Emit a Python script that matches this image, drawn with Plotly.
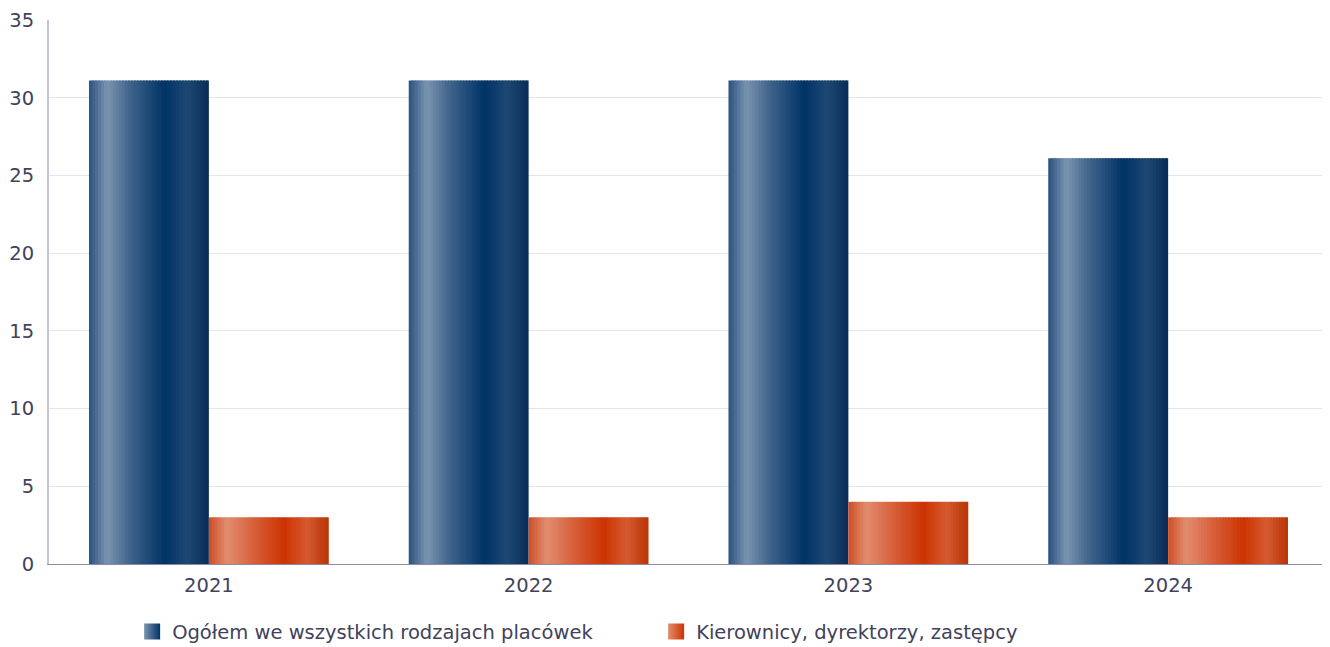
import plotly.graph_objects as go

years = ["2021", "2022", "2023", "2024"]
ogolem = [31.1, 31.1, 31.1, 26.1]
kierownicy = [3, 3, 4, 3]
series_names = ["Ogółem we wszystkich rodzajach placówek", "Kierownicy, dyrektorzy, zastępcy"]

# gradient stops (position across bar width, colour)
blue_stops = [(0.0, (44, 82, 126)), (0.15, (122, 148, 176)), (0.35, (62, 98, 138)),
              (0.63, (0, 51, 102)), (0.82, (30, 72, 115)), (1.0, (8, 44, 88))]
orange_stops = [(0.0, (204, 78, 38)), (0.15, (226, 142, 112)), (0.35, (216, 100, 64)),
                (0.63, (204, 51, 0)), (0.82, (214, 90, 48)), (1.0, (184, 52, 4))]


def colour_at(stops, t):
    for (p0, c0), (p1, c1) in zip(stops[:-1], stops[1:]):
        if p0 <= t <= p1:
            f = (t - p0) / (p1 - p0)
            c = [round(a + (b - a) * f) for a, b in zip(c0, c1)]
            return "rgb(%d,%d,%d)" % tuple(c)
    return "rgb(%d,%d,%d)" % stops[-1][1]


fig = go.Figure()
bar_w = 0.375
N = 40
step = bar_w / N
for si, (vals, stops, name) in enumerate([(ogolem, blue_stops, series_names[0]),
                                          (kierownicy, orange_stops, series_names[1])]):
    start = -bar_w + si * bar_w
    for k in range(N):
        t = (k + 0.5) / N
        fig.add_trace(go.Bar(
            x=years, y=vals,
            offset=start + k * step,
            width=step * (1.6 if k < N - 1 else 1.0),
            marker=dict(color=colour_at(stops, t), line=dict(width=0)),
            showlegend=False, hoverinfo="skip" if k != N // 2 else None,
            name=name,
        ))
    # legend entry with gradient square
    fig.add_trace(go.Scatter(
        x=[None], y=[None], name=name, mode="markers",
        marker=dict(symbol="square", size=16, color=colour_at(stops, 0.15),
                    gradient=dict(type="horizontal", color=colour_at(stops, 0.63)),
                    line=dict(width=0)),
        showlegend=True,
    ))

font_col = "#42425c"
fs = 19.5
fig.update_layout(
    width=1330, height=647,
    barmode="overlay",
    plot_bgcolor="white", paper_bgcolor="white",
    margin=dict(l=41, r=10, t=12, b=91, autoexpand=False),
    font=dict(family="DejaVu Sans", size=fs, color=font_col),
    xaxis=dict(showgrid=False, showline=True, linecolor="#8a8aaa", linewidth=1,
               ticks="", tickfont=dict(size=fs, color=font_col), ticklabelstandoff=4,
               automargin=False),
    yaxis=dict(range=[0, 35], dtick=5, showgrid=True, gridcolor="#e4e4ee", gridwidth=1,
               showline=True, linecolor="#c4c6d8", linewidth=2, zeroline=False,
               ticks="", tickfont=dict(size=fs, color=font_col), ticklabelstandoff=9,
               automargin=False),
    legend=dict(orientation="h", x=0.065, xanchor="left",
                yref="container", y=0.036, yanchor="middle",
                font=dict(size=fs, color=font_col), entrywidth=479, entrywidthmode="pixels",
                itemsizing="trace", itemwidth=30),
    bargap=0.25,
)

fig.write_html("out.html")
